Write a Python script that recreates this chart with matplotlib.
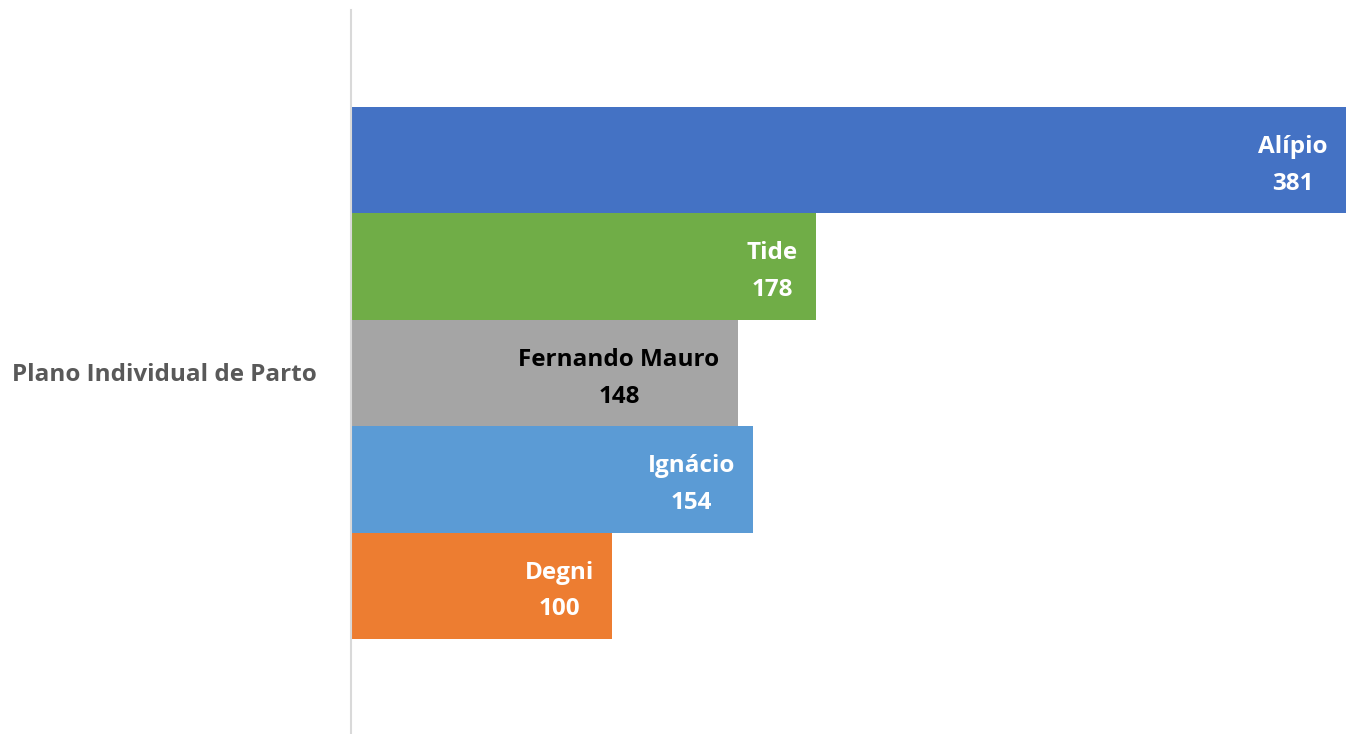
import numpy as np
import matplotlib.pyplot as plt

plt.rcParams['font.family'] = ['Open Sans', 'DejaVu Sans']

category = 'Plano Individual de Parto'
names = ['Alípio', 'Tide', 'Fernando Mauro', 'Ignácio', 'Degni']
values = [381, 178, 148, 154, 100]
colors = ['#4472C4', '#70AD47', '#A5A5A5', '#5B9BD5', '#ED7D31']
text_colors = ['white', 'white', 'black', 'white', 'white']

fig = plt.figure(figsize=(13.46, 7.34), dpi=100)
ax = fig.add_axes([351 / 1346, 0, 1 - 351 / 1346, 724 / 734])

pos = np.arange(len(names))
ax.barh(pos, values, height=1.0, color=colors)

# labels inside the end of each bar
for p, v, n, tc in zip(pos, values, names, text_colors):
    ax.annotate(f'{n}\n{v}', xy=(v, p), xytext=(-18, -5), textcoords='offset pixels',
                ha='right', va='center', multialignment='center',
                fontsize=17.5, fontweight='bold', color=tc, linespacing=1.72)

ax.set_xlim(0, 381)
ax.set_ylim(5.39, -1.41)
ax.set_xticks([])
ax.set_yticks([])
for s in ['top', 'right', 'bottom']:
    ax.spines[s].set_visible(False)
ax.spines['left'].set_color('#D9D9D9')
ax.spines['left'].set_linewidth(1.5)

fig.text(12 / 1346, 1 - 375 / 734, category, ha='left', va='center',
         fontsize=17.5, fontweight='bold', color='#595959')

fig.savefig('out.png', dpi=100)
